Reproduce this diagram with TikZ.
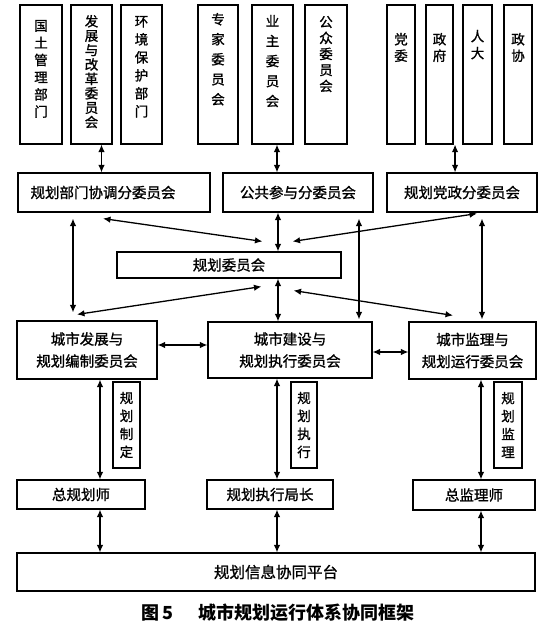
\documentclass[tikz,border=0pt]{standalone}
\usepackage{fontspec}
\setmainfont{Noto Sans CJK SC}[UprightFeatures={FakeBold=1.2}]
\usetikzlibrary{arrows.meta,calc}
\newcommand{\vcol}[4]{\parbox[c][#1][t]{22pt}{\centering\fontsize{13.5}{#3}\selectfont\vspace*{#2}#4}}
\tikzset{
  box/.style={draw, line width=1.1pt, inner sep=0pt, font=\fontsize{14.5}{17}\selectfont},
  dbl/.style={line width=1.3pt, {Latex[length=7.5pt,width=6.5pt]}-{Latex[length=7.5pt,width=6.5pt]}},
}
\begin{document}
\begin{tikzpicture}[x=1pt,y=-1pt]
\useasboundingbox (0,0) rectangle (550,628);
% top row
\node[box, minimum width=42pt, minimum height=139pt] (gt) at (41,74.5) {\vcol{139pt}{15pt}{17.2pt}{国\\土\\管\\理\\部\\门}};
\node[box, minimum width=41pt, minimum height=139pt] (fz) at (91.5,74.5) {\vcol{139pt}{10pt}{14.4pt}{发\\展\\与\\改\\革\\委\\员\\会}};
\node[box, minimum width=41pt, minimum height=139pt] (hj) at (141.5,74.5) {\vcol{139pt}{11pt}{18pt}{环\\境\\保\\护\\部\\门}};
\node[box, minimum width=40pt, minimum height=139pt] (zjw) at (218,74.5) {\vcol{139pt}{8pt}{20pt}{专\\家\\委\\员\\会}};
\node[box, minimum width=41pt, minimum height=139pt] (yz) at (272.5,74.5) {\vcol{139pt}{10pt}{20pt}{业\\主\\委\\员\\会}};
\node[box, minimum width=42pt, minimum height=139pt] (gz) at (326,74.5) {\vcol{139pt}{11pt}{16pt}{公\\众\\委\\员\\会}};
\node[box, minimum width=28pt, minimum height=139pt] (dw) at (401,74.5) {\vcol{139pt}{28pt}{16.5pt}{党\\委}};
\node[box, minimum width=27pt, minimum height=139pt] (zf) at (439.5,74.5) {\vcol{139pt}{28pt}{16.5pt}{政\\府}};
\node[box, minimum width=29pt, minimum height=139pt] (rd) at (477.5,74.5) {\vcol{139pt}{25pt}{17pt}{人\\大}};
\node[box, minimum width=28pt, minimum height=139pt] (zx) at (518,74.5) {\vcol{139pt}{28pt}{16.5pt}{政\\协}};
% row 2
\node[box, minimum width=192pt, minimum height=39pt] (xt) at (114,192.5) {\hspace*{-22pt}规划部门协调分委员会};
\node[box, minimum width=150pt, minimum height=39pt] (gg) at (298,192.5) {公共参与分委员会};
\node[box, minimum width=150pt, minimum height=39pt] (dz) at (462,192.5) {规划党政分委员会};
% row 3
\node[box, minimum width=224pt, minimum height=26pt] (ghw) at (229,265) {规划委员会};
% row 4
\node[box, minimum width=140pt, minimum height=58pt, align=center, font=\fontsize{14.5}{22}\selectfont] (fz4) at (87,350) {城市发展与\\规划编制委员会};
\node[box, minimum width=164pt, minimum height=56pt, align=center, font=\fontsize{14.5}{22}\selectfont] (cj) at (290,350) {城市建设与\\规划执行委员会};
\node[box, minimum width=127pt, minimum height=57pt, align=center, font=\fontsize{14.5}{22}\selectfont] (jl) at (472.5,350.5) {城市监理与\\规划运行委员会};
% label boxes
\node[box, minimum width=27pt, minimum height=86pt, align=center, font=\fontsize{13.5}{18}\selectfont] (ld) at (126.5,425) {规\\划\\制\\定};
\node[box, minimum width=26pt, minimum height=86pt, align=center, font=\fontsize{13.5}{18}\selectfont] (le) at (304,425) {规\\划\\执\\行};
\node[box, minimum width=28pt, minimum height=86pt, align=center, font=\fontsize{13.5}{18}\selectfont] (lm) at (508,425) {规\\划\\监\\理};
% row 5
\node[box, minimum width=128pt, minimum height=29pt] (zgh) at (81,494.5) {总规划师};
\node[box, minimum width=126pt, minimum height=29pt] (zxj) at (270,494.5) {规划执行局长};
\node[box, minimum width=122pt, minimum height=30pt] (zjs) at (474,495) {总监理师};
% row 6
\node[box, minimum width=518pt, minimum height=38pt, font=\fontsize{15.5}{18}\selectfont] (pt) at (276,572) {规划信息协同平台};
% caption
\node[anchor=west, inner sep=0pt, font=\fontsize{18}{20}\selectfont\bfseries] (cap) at (141,613) {图\,5\hspace{25pt}城市规划运行体系协同框架};
% arrows top -> row2
\draw[dbl] ([shift={(10,0)}]fz.south) -- ([shift={(10,0)}]fz.south |- xt.north);
\draw[dbl] ([shift={(4.5,0)}]yz.south) -- ([shift={(4.5,0)}]yz.south |- gg.north);
\draw[dbl] ([shift={(1.5,0)}]zf.south east) -- ([shift={(1.5,0)}]zf.south east |- dz.north);
% row2 <-> row3/row4
\draw[dbl] ([shift={(-11,6)}]xt.south) -- ([shift={(146,-10)}]ghw.north west);
\draw[dbl, shorten <=6pt, shorten >=8pt] ([shift={(-41,0)}]xt.south) -- ([shift={(-41,0)}]xt.south |- fz4.north);
\draw[dbl] ([shift={(-10,-6)}]fz4.north) -- ([shift={(145,8)}]ghw.south west);
\draw[dbl] ([shift={(-20,0)}]gg.south) -- ([shift={(-20,0)}]gg.south |- ghw.north);
\draw[dbl] ([shift={(49,0)}]ghw.south) -- ([shift={(49,0)}]ghw.south |- cj.north);
\draw[dbl, shorten <=6pt, shorten >=2pt] ([shift={(61,0)}]gg.south) -- ([shift={(61,0)}]gg.south |- cj.north);
\draw[dbl] ([shift={(15,1)}]dz.south) -- ([shift={(-49,-10)}]ghw.north east);
\draw[dbl, shorten <=6pt, shorten >=2pt] ([shift={(20,0)}]dz.south) -- ([shift={(20,0)}]dz.south |- jl.north);
\draw[dbl] ([shift={(-48,12)}]ghw.south east) -- ([shift={(-19.5,-6)}]jl.north);
% row 4 horizontal
\draw[dbl] ([shift={(0,-5)}]fz4.east) -- ([shift={(0,-5)}]fz4.east -| cj.west);
\draw[dbl] ([shift={(0,2)}]cj.east) -- ([shift={(0,2)}]cj.east -| jl.west);
% row 4 -> row 5
\draw[dbl] ([shift={(13,0)}]fz4.south) -- ([shift={(13,0)}]fz4.south |- zgh.north);
\draw[dbl] ([shift={(-13,0)}]cj.south) -- ([shift={(-13,0)}]cj.south |- zxj.north);
\draw[dbl] ([shift={(8.5,0)}]jl.south) -- ([shift={(8.5,0)}]jl.south |- zjs.north);
% row 5 -> row 6
\draw[dbl] ([shift={(19,0)}]zgh.south) -- ([shift={(19,0)}]zgh.south |- pt.north);
\draw[dbl] ([shift={(7,0)}]zxj.south) -- ([shift={(7,0)}]zxj.south |- pt.north);
\draw[dbl] ([shift={(7,0)}]zjs.south) -- ([shift={(7,0)}]zjs.south |- pt.north);
\end{tikzpicture}
\end{document}
